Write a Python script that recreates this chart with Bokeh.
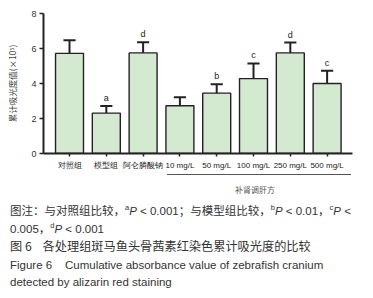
from bokeh.plotting import figure
from bokeh.models import ColumnDataSource, FixedTicker, Range1d, Div
from bokeh.layouts import column
from bokeh.embed import file_html
from bokeh.resources import INLINE
from bokeh.core.properties import value

categories = ["对照组", "模型组", "阿仑膦酸钠", "10 mg/L", "50 mg/L", "100 mg/L", "250 mg/L", "500 mg/L"]
means = [5.72, 2.31, 5.75, 2.73, 3.45, 4.28, 5.75, 4.00]
errors = [0.75, 0.41, 0.61, 0.49, 0.51, 0.87, 0.59, 0.73]
letters = ["", "a", "d", "", "b", "c", "d", "c"]
group_label = "补肾调肝方"
y_label = "累计吸光度值(×10⁵)"
y_ticks = [0, 2, 4, 6, 8]

xs = list(range(len(categories)))
tops = [m + e for m, e in zip(means, errors)]
src = ColumnDataSource(dict(x=xs, top=means, etop=tops, lab=letters,
                            cl=[x - 0.165 for x in xs], cr=[x + 0.165 for x in xs]))

LATIN = "Liberation Sans"
CJK = "Noto Sans CJK SC"

p = figure(width=373, height=172, output_backend="svg", toolbar_location=None,
           x_range=Range1d(-0.707, 7.69), y_range=Range1d(0, 8),
           min_border_left=43, min_border_right=21, min_border_top=13, min_border_bottom=18)
p.outline_line_color = None
p.grid.visible = False
p.background_fill_color = "white"

p.vbar(x="x", top="top", bottom=0, width=0.76, source=src,
       fill_color="#d4ead0", line_color="#222222", line_width=1.4)
p.segment(x0="x", y0="top", x1="x", y1="etop", source=src, line_color="#222222", line_width=2)
p.segment(x0="cl", y0="etop", x1="cr", y1="etop", source=src, line_color="#222222", line_width=2)
p.text(x="x", y="etop", text="lab", source=src, text_align="center", text_baseline="bottom",
       y_offset=-3, text_font=value(LATIN), text_font_size="9px", text_color="#222222")

# y axis
ya = p.yaxis[0]
ya.ticker = FixedTicker(ticks=y_ticks)
ya.minor_tick_line_color = None
ya.major_tick_in = 0
ya.major_tick_out = 4
ya.axis_line_width = 2
ya.major_tick_line_width = 1.5
ya.axis_line_color = "#222222"
ya.major_tick_line_color = "#222222"
ya.major_label_text_font = LATIN
ya.major_label_text_font_size = "9px"
ya.major_label_text_color = "#333333"
ya.major_label_standoff = 3
ya.axis_label = y_label
ya.axis_label_text_font = CJK
ya.axis_label_text_font_style = "normal"
ya.axis_label_text_font_size = "8.5px"
ya.axis_label_text_color = "#444444"
ya.axis_label_standoff = 10

# x axis
xa = p.xaxis[0]
xa.ticker = FixedTicker(ticks=xs)
xa.major_label_overrides = {i: c for i, c in enumerate(categories)}
xa.minor_tick_line_color = None
xa.major_tick_in = 0
xa.major_tick_out = 3
xa.axis_line_width = 2
xa.major_tick_line_width = 1.5
xa.axis_line_color = "#222222"
xa.major_tick_line_color = "#222222"
xa.major_label_text_font = LATIN
xa.major_label_text_font_size = "8px"
xa.major_label_text_color = "#222222"
xa.major_label_standoff = 4

sup = '<sup style="font-size:7.5px;line-height:0;vertical-align:5px">%s</sup>'
cap_html = (
    '<div style="position:relative;width:373px;height:126px;overflow:hidden;'
    'font-family:\'Liberation Sans\',\'Noto Sans CJK SC\',sans-serif;color:#333">'
    '<div style="position:absolute;left:167px;top:2px;width:184px;height:0;'
    'border-top:1.2px solid #555"></div>'
    '<div style="position:absolute;left:215px;width:80px;top:12px;text-align:center;'
    'font-family:\'Noto Sans CJK SC\';font-size:8px;line-height:12px;color:#555">'
    + group_label + '</div>'
    '<div style="position:absolute;left:10px;top:31px;font-size:11.5px;line-height:17.6px;'
    'white-space:nowrap">'
    '图注：与对照组比较，' + sup % 'a' + '<i>P</i> &lt; 0.001；与模型组比较，'
    + sup % 'b' + '<i>P</i> &lt; 0.01，' + sup % 'c' + '<i>P</i> &lt;<br>'
    '0.005，' + sup % 'd' + '<i>P</i> &lt; 0.001<br>'
    '<span style="font-family:\'Noto Sans CJK SC\';font-size:12.2px">图 6&nbsp;&nbsp;&nbsp;&nbsp;各处理组斑马鱼头骨茜素红染色累计吸光度的比较</span><br>'
    'Figure 6&nbsp;&nbsp;&nbsp;&nbsp;Cumulative absorbance value of zebrafish cranium<br>'
    'detected by alizarin red staining'
    '</div></div>'
)
cap = Div(text=cap_html, width=373, height=126, margin=(0, 0, 0, 0))

layout = column(p, cap, spacing=0, margin=(0, 0, 0, 0))
open("out.html", "w").write(file_html(layout, INLINE))
